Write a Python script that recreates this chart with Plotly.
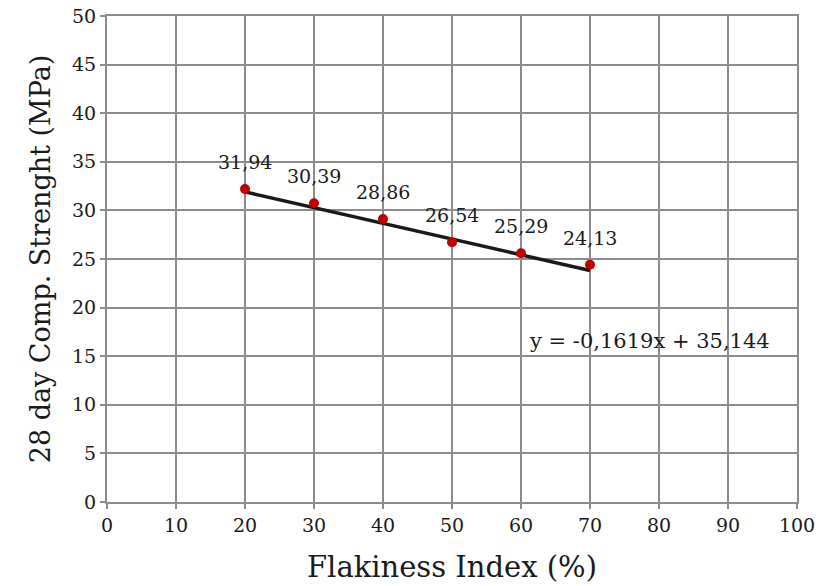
import plotly.graph_objects as go

flakiness = [20, 30, 40, 50, 60, 70]
strength = [32.2, 30.73, 29.12, 26.73, 25.6, 24.4]
labels = ["31,94", "30,39", "28,86", "26,54", "25,29", "24,13"]
slope = -0.1619
intercept = 35.144
trend_x = [20, 70]
trend_y = [slope * x + intercept for x in trend_x]
x_ticks = list(range(0, 101, 10))
y_ticks = list(range(0, 51, 5))

FONT = "DejaVu Serif"
GRID = "#8c8c8c"
TXT = "#1a1a1a"

fig = go.Figure()
fig.add_trace(go.Scatter(x=trend_x, y=trend_y, mode="lines",
                         line=dict(color="#1a1a1a", width=3.5), hoverinfo="skip"))
fig.add_trace(go.Scatter(x=flakiness, y=strength, mode="markers",
                         marker=dict(color="#c00000", size=10)))
for xv, yv, lab in zip(flakiness, strength, labels):
    fig.add_annotation(x=xv, y=yv, xref="x", yref="y", text=lab, showarrow=False,
                       yshift=27, font=dict(family=FONT, size=19, color=TXT))
fig.add_annotation(x=60.8, y=16.6, xref="x", yref="y", text="y = -0,1619x + 35,144",
                   showarrow=False, xanchor="left", yanchor="middle",
                   font=dict(family=FONT, size=21, color=TXT))

fig.update_layout(
    width=816, height=586,
    margin=dict(l=107, r=19, t=16, b=84),
    paper_bgcolor="white", plot_bgcolor="white",
    showlegend=False,
    font=dict(family=FONT, color=TXT),
)
fig.update_xaxes(range=[0, 100], tickvals=x_ticks, showgrid=True, gridcolor=GRID, gridwidth=2,
                 showline=True, linecolor=GRID, linewidth=2, mirror=True, automargin=False,
                 ticks="outside", ticklen=5, tickcolor=GRID, tickwidth=2,
                 tickfont=dict(family=FONT, size=19, color=TXT), zeroline=False,
                 title=dict(text="Flakiness Index (%)", font=dict(family=FONT, size=29, color=TXT), standoff=22))
fig.update_yaxes(range=[0, 50], tickvals=y_ticks, showgrid=True, gridcolor=GRID, gridwidth=2,
                 showline=True, linecolor=GRID, linewidth=2, mirror=True, automargin=False,
                 ticks="outside", ticklen=5, tickcolor=GRID, tickwidth=2,
                 tickfont=dict(family=FONT, size=19, color=TXT), zeroline=False,
                 title=dict(text="28 day Comp. Strenght (MPa)", font=dict(family=FONT, size=27, color=TXT), standoff=14))

fig.write_html("out.html")
